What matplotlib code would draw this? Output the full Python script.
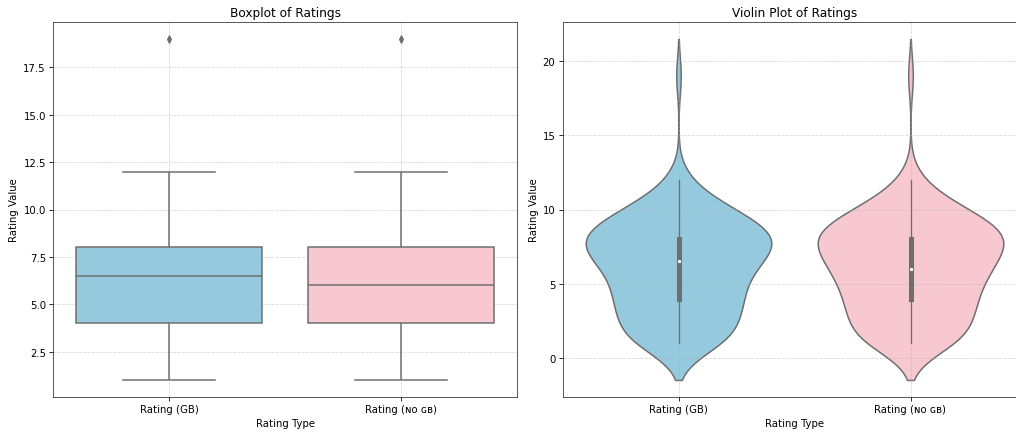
import numpy as np
import pandas as pd
import matplotlib
matplotlib.use("Agg")
import matplotlib.pyplot as plt
import seaborn as sns

# Rating values and how often each occurs (read/estimated from the chart)
rating_values = [1, 2, 3, 4, 5, 6, 7, 8, 9, 10, 11, 12, 19]
counts_gb = [10, 8, 9, 10, 9, 11, 13, 17, 12, 9, 3, 2, 1]
counts_nogb = [10, 8, 9, 10, 9, 13, 11, 17, 12, 9, 3, 2, 1]
categories = ["Rating (GB)", "Rating (\u0274\u1d0f \u0262\u0299)"]
colors = ["skyblue", "pink"]

gb = np.repeat(rating_values, counts_gb)
nogb = np.repeat(rating_values, counts_nogb)
df = pd.DataFrame({
    "Rating Type": [categories[0]] * len(gb) + [categories[1]] * len(nogb),
    "Rating Value": np.concatenate([gb, nogb]).astype(float),
})

dpi = 72.57
fig = plt.figure(figsize=(1016 / dpi, 434 / dpi), dpi=dpi)
ax1 = fig.add_axes([53 / 1016, 36 / 434, 464 / 1016, 375 / 434])
ax2 = fig.add_axes([562.5 / 1016, 36 / 434, 464 / 1016, 375 / 434])

sns.boxplot(data=df, x="Rating Type", y="Rating Value", hue="Rating Type",
            palette=colors, ax=ax1, legend=False, linecolor="#6e6e6e",
            linewidth=1.5,
            flierprops=dict(marker="d", markerfacecolor="#6e6e6e",
                            markeredgecolor="#6e6e6e", markersize=5))
ax1.set_title("Boxplot of Ratings", fontsize=12)
ax1.set_xlabel("Rating Type")
ax1.set_ylabel("Rating Value")
ax1.grid(True, linestyle="--", alpha=0.5)

sns.violinplot(data=df, x="Rating Type", y="Rating Value", hue="Rating Type",
               palette=colors, ax=ax2, legend=False, linecolor="#6e6e6e",
               linewidth=1.5,
               inner_kws=dict(box_width=5, whis_width=1.3, marker="s",
                              markersize=2.5, color="#6e6e6e"))
ax2.set_title("Violin Plot of Ratings", fontsize=12)
ax2.set_xlabel("Rating Type")
ax2.set_ylabel("Rating Value")
ax2.grid(True, linestyle="--", alpha=0.5)

for ax in (ax1, ax2):
    for s in ax.spines.values():
        s.set_edgecolor("#333333")

fig.savefig("out.png", dpi=dpi)
